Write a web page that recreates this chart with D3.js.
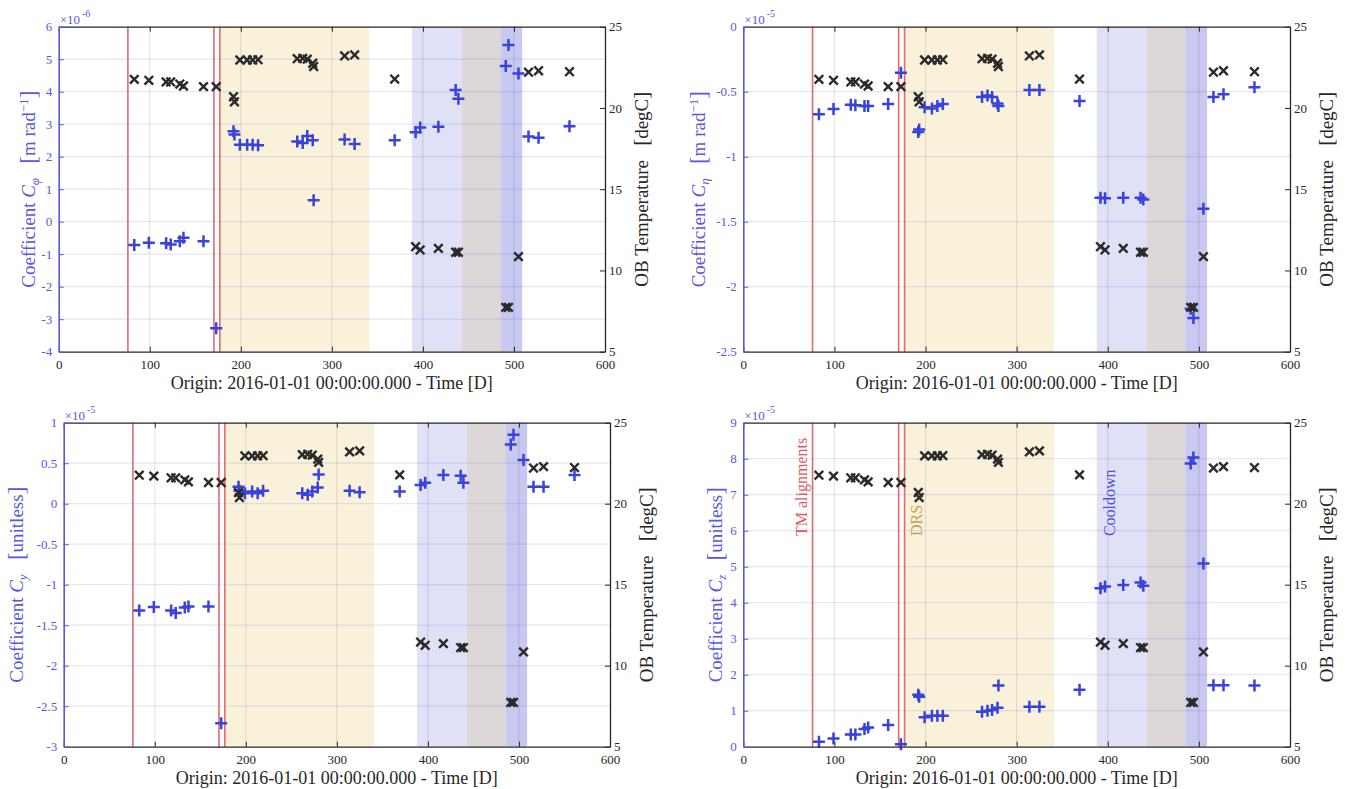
<!DOCTYPE html>
<html>
<head>
<meta charset="utf-8">
<script src="https://cdn.jsdelivr.net/npm/d3@7"></script>
<style>
  html, body { margin: 0; padding: 0; background: #ffffff; }
  svg { display: block; }
  svg text { font-family: "Liberation Serif", "DejaVu Serif", "Noto Serif", serif; }
</style>
</head>
<body>
<svg id="chart" width="1349" height="789"></svg>
<script>
// ---------------- data ----------------
const times = [83, 99, 118, 123, 133, 137, 159, 173, 192, 193, 199, 207, 213, 219,
  262, 268, 273, 279, 280, 314, 325, 369, 392, 397, 417, 436, 439, 491, 494, 505, 516, 527, 561];

const obTemp = [21.76, 21.70, 21.60, 21.60, 21.47, 21.35, 21.31, 21.31, 20.69, 20.38, 22.95, 22.95, 22.95, 22.97,
  23.03, 23.05, 23.00, 22.75, 22.55, 23.20, 23.26, 21.78, 11.46, 11.26, 11.36, 11.12, 11.12, 7.73, 7.73, 10.85, 22.20, 22.29, 22.23];

// C_phi, units of 1e-6 m/rad
const cPhi = [-0.72, -0.65, -0.66, -0.70, -0.60, -0.49, -0.60, -3.28, 2.78, 2.68, 2.37, 2.37, 2.37, 2.35,
  2.47, 2.42, 2.64, 2.51, 0.66, 2.53, 2.39, 2.51, 2.75, 2.90, 2.92, 4.05, 3.78, 4.79, 5.44, 4.56, 2.62, 2.58, 2.94];

// C_eta, units of 1e-5 m/rad
const cEta = [-0.674, -0.633, -0.600, -0.605, -0.610, -0.610, -0.595, -0.354, -0.810, -0.790, -0.620, -0.630, -0.610, -0.595,
  -0.540, -0.530, -0.540, -0.590, -0.610, -0.487, -0.487, -0.572, -1.315, -1.320, -1.315, -1.315, -1.330, -2.170, -2.240, -1.400, -0.540, -0.520, -0.466];

// C_y, units of 1e-5
const cY = [-1.32, -1.275, -1.32, -1.35, -1.28, -1.27, -1.27, -2.71, 0.21, 0.16, 0.13, 0.15, 0.13, 0.16,
  0.13, 0.11, 0.15, 0.20, 0.36, 0.16, 0.14, 0.15, 0.23, 0.26, 0.355, 0.345, 0.26, 0.73, 0.85, 0.54, 0.21, 0.21, 0.355];

// C_z, units of 1e-5
const cZ = [0.14, 0.23, 0.34, 0.34, 0.49, 0.53, 0.60, 0.07, 1.44, 1.39, 0.82, 0.86, 0.86, 0.86,
  0.97, 1.00, 1.02, 1.08, 1.70, 1.11, 1.11, 1.58, 4.40, 4.45, 4.49, 4.56, 4.47, 7.87, 8.03, 5.09, 1.71, 1.71, 1.70];

const xTicks = [0, 100, 200, 300, 400, 500, 600];
const tempTicks = [5, 10, 15, 20, 25];
const phiTicks = [-4, -3, -2, -1, 0, 1, 2, 3, 4, 5, 6];
const etaTicks = [-2.5, -2, -1.5, -1, -0.5, 0];
const yTicks = [-3, -2.5, -2, -1.5, -1, -0.5, 0, 0.5, 1];
const zTicks = [0, 1, 2, 3, 4, 5, 6, 7, 8, 9];

const eventLines = [76, 170.5, 177];          // TM alignments
const drsSpan = [177, 341];
const cooldownSpan = [388, 443];
const overlapSpan = [443, 485];
const cooldown2Span = [485, 509];

const annotLabels = ["TM alignments", "DRS", "Cooldown"];
const annotX = [64, 190.6, 401.5];
const annotTemp = 18;

const xLabel = "Origin: 2016-01-01 00:00:00.000 - Time [D]";
const rightLabel = "OB Temperature  [degC]";

// ---------------- drawing ----------------
const svg = d3.select("#chart");
svg.append("rect").attr("width", 1349).attr("height", 789).attr("fill", "#ffffff");

const FONT = "Liberation Serif, DejaVu Serif, Noto Serif, serif";
const LBLUE = "#5757e3";
const DARK = "#262626";
const MBLUE = "#3843dc";

const panels = [
  { x0: 58.7, x1: 605, y0: 26.7, y1: 351.7, vals: cPhi, dom: [-4, 6], ticks: phiTicks, exp: "-6",
    sub: "φ", unit: "m rad", unitSup: "−1", lblOff: 30.7, annot: false },
  { x0: 743.3, x1: 1290, y0: 26.7, y1: 351.7, vals: cEta, dom: [-2.5, 0], ticks: etaTicks, exp: "-5",
    sub: "η", unit: "m rad", unitSup: "−1", lblOff: 45, annot: false },
  { x0: 63.7, x1: 610, y0: 422.7, y1: 746.7, vals: cY, dom: [-3, 1], ticks: yTicks, exp: "-5",
    sub: "y", unit: "unitless", unitSup: null, lblOff: 47, annot: false },
  { x0: 743.3, x1: 1290, y0: 422.7, y1: 746.7, vals: cZ, dom: [0, 9], ticks: zTicks, exp: "-5",
    sub: "z", unit: "unitless", unitSup: null, lblOff: 28, annot: true }
];

const plusPath = "M-6,0H6M0,-6V6";
const crossPath = "M-4.3,-4.3L4.3,4.3M-4.3,4.3L4.3,-4.3";

panels.forEach((p) => {
  const g = svg.append("g");
  const x = d3.scaleLinear().domain([0, 600]).range([p.x0, p.x1]);
  const yL = d3.scaleLinear().domain(p.dom).range([p.y1, p.y0]);
  const yR = d3.scaleLinear().domain([5, 25]).range([p.y1, p.y0]);
  const h = p.y1 - p.y0;

  // shaded spans
  const spans = [
    { s: drsSpan, c: "#faf1da" },
    { s: cooldownSpan, c: "#e0e0f6" },
    { s: overlapSpan, c: "#ddd7d7" },
    { s: cooldown2Span, c: "#c8c8f0" }
  ];
  g.selectAll("rect.span").data(spans).join("rect")
    .attr("x", d => x(d.s[0])).attr("width", d => x(d.s[1]) - x(d.s[0]))
    .attr("y", p.y0).attr("height", h).attr("fill", d => d.c);

  // grid
  g.selectAll("line.vg").data(xTicks.slice(1, -1)).join("line")
    .attr("x1", d => x(d)).attr("x2", d => x(d)).attr("y1", p.y0).attr("y2", p.y1)
    .attr("stroke", "rgba(38,38,38,0.11)").attr("stroke-width", 1.2);
  g.selectAll("line.hg").data(p.ticks.slice(1, -1)).join("line")
    .attr("x1", p.x0).attr("x2", p.x1).attr("y1", d => yL(d)).attr("y2", d => yL(d))
    .attr("stroke", "rgba(80,80,230,0.14)").attr("stroke-width", 1.2);

  // red event lines
  g.selectAll("line.ev").data(eventLines).join("line")
    .attr("x1", d => x(d)).attr("x2", d => x(d)).attr("y1", p.y0).attr("y2", p.y1)
    .attr("stroke", "#e06b6b").attr("stroke-width", 1.6);

  // annotations
  if (p.annot) {
    const acol = ["#e05a5a", "#c4a35e", "#5252e0"];
    annotLabels.forEach((t, i) => {
      const ax = x(annotX[i]), ay = yR(annotTemp);
      g.append("text").attr("transform", `translate(${ax},${ay}) rotate(-90)`)
        .attr("dy", "0.34em").attr("text-anchor", "start")
        .attr("font-family", FONT).attr("font-size", 16).attr("fill", acol[i]).text(t);
    });
  }

  // markers
  g.selectAll("path.cp").data(times.map((t, i) => [t, p.vals[i]])).join("path")
    .attr("d", plusPath).attr("transform", d => `translate(${x(d[0])},${yL(d[1])})`)
    .attr("stroke", MBLUE).attr("stroke-width", 2.5).attr("fill", "none");
  g.selectAll("path.tp").data(times.map((t, i) => [t, obTemp[i]])).join("path")
    .attr("d", crossPath).attr("transform", d => `translate(${x(d[0])},${yR(d[1])})`)
    .attr("stroke", "#2a2a2a").attr("stroke-width", 2.4).attr("fill", "none");

  // axes
  const styleAxis = (sel, col) => {
    sel.attr("font-family", FONT).attr("font-size", 13);
    sel.selectAll("text").attr("fill", col);
    sel.selectAll("line").attr("stroke", col);
    sel.select(".domain").attr("stroke", col).attr("stroke-width", 1.1);
  };
  const bx = g.append("g").attr("transform", `translate(0,${p.y1})`)
    .call(d3.axisBottom(x).tickValues(xTicks).tickSize(-5).tickSizeOuter(0).tickPadding(8.5).tickFormat(d => String(d)));
  styleAxis(bx, DARK);
  bx.select(".domain").attr("stroke-width", 1.3);
  const tx = g.append("g").attr("transform", `translate(0,${p.y0})`)
    .call(d3.axisTop(x).tickValues(xTicks).tickSize(-5).tickSizeOuter(0).tickFormat(""));
  styleAxis(tx, DARK);
  tx.select(".domain").attr("stroke-width", 1.3);
  const ly = g.append("g").attr("transform", `translate(${p.x0},0)`)
    .call(d3.axisLeft(yL).tickValues(p.ticks).tickSize(-5).tickSizeOuter(0).tickPadding(6.5).tickFormat(d => String(d)));
  styleAxis(ly, LBLUE);
  ly.select(".domain").attr("stroke-width", 1.6);
  const ry = g.append("g").attr("transform", `translate(${p.x1},0)`)
    .call(d3.axisRight(yR).tickValues(tempTicks).tickSize(-5).tickSizeOuter(0).tickPadding(4).tickFormat(d => String(d)));
  styleAxis(ry, DARK);
  ry.select(".domain").attr("stroke-width", 1.3);

  // exponent
  const ex = g.append("text").attr("x", p.x0 + 1).attr("y", p.y0 - 3)
    .attr("font-family", FONT).attr("font-size", 13).attr("fill", LBLUE);
  ex.append("tspan").text("×10");
  ex.append("tspan").attr("dx", 2).attr("dy", -7).attr("font-size", 10).text(p.exp);

  // x label
  g.append("text").attr("x", (p.x0 + p.x1) / 2).attr("y", p.y1 + 37)
    .attr("text-anchor", "middle").attr("font-family", FONT).attr("font-size", 18)
    .attr("fill", DARK).text(xLabel);

  // left y label
  const cy = (p.y0 + p.y1) / 2;
  const yl = g.append("text").attr("transform", `translate(${p.x0 - p.lblOff},${cy}) rotate(-90)`)
    .attr("dy", "0.35em").attr("text-anchor", "middle").attr("font-family", FONT)
    .attr("font-size", 19).attr("fill", LBLUE);
  yl.append("tspan").text("Coefficient ");
  yl.append("tspan").attr("font-style", "italic").text("C");
  yl.append("tspan").attr("font-style", "italic").attr("font-size", 13).attr("dy", 4).text(p.sub);
  yl.append("tspan").attr("dy", -4).text("\u2002 ");
  yl.append("tspan").attr("font-size", 23).attr("dy", 1).text("[");
  yl.append("tspan").attr("dy", -1).text(p.unit);
  if (p.unitSup) {
    yl.append("tspan").attr("font-size", 13).attr("dy", -7).text(p.unitSup);
    yl.append("tspan").attr("font-size", 23).attr("dy", 8).text("]");
  } else {
    yl.append("tspan").attr("font-size", 23).attr("dy", 1).text("]");
  }

  // right y label
  const rl = g.append("text").attr("transform", `translate(${p.x1 + 36},${cy}) rotate(-90)`)
    .attr("dy", "0.35em").attr("text-anchor", "middle").attr("font-family", FONT)
    .attr("font-size", 19).attr("fill", DARK);
  rl.append("tspan").text("OB Temperature\u2002 ");
  rl.append("tspan").attr("font-size", 21).text("[");
  rl.append("tspan").text("degC");
  rl.append("tspan").attr("font-size", 21).text("]");
});
</script>
</body>
</html>
